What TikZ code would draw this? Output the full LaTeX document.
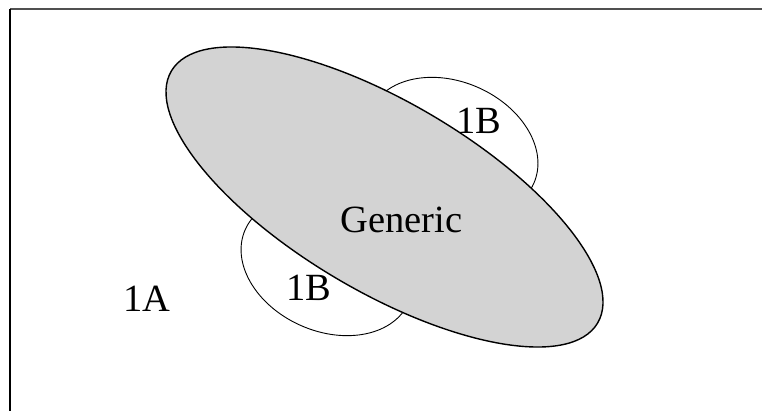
\documentclass[tikz,border=0pt]{standalone}
\usepackage{fontspec}
\setmainfont{Liberation Serif}
\definecolor{fillgray}{RGB}{211,211,211}
\definecolor{topline}{RGB}{80,80,80}
\begin{document}
\begin{tikzpicture}[x=1pt,y=-1pt,
  lbl/.style={anchor=base,inner sep=0pt,font=\fontsize{38.5}{40}\selectfont},
  side/.style={draw=black,line width=0.9pt,fill=white},
  main/.style={draw=black,line width=1.4pt,fill=fillgray}]
\useasboundingbox (0,0) rectangle (762,411);
% frame
\coordinate (tl) at (10,9);
\coordinate (tr) at (762,9);
\coordinate (bl) at (10,411);
\draw[topline,line width=1.3pt] (tl) -- (tr);
\draw[black,line width=1.3pt] (tl) -- (bl);
% side ellipses
\coordinate (cu) at (452,147);
\coordinate (cl) at (327,266);
\draw[side,rotate around={-24:(cu)}] (cu) ellipse [x radius=89.5pt, y radius=65pt];
\draw[side,rotate around={-24:(cl)}] (cl) ellipse [x radius=89.5pt, y radius=65pt];
% main ellipse
\coordinate (cm) at (384.5,197);
\draw[main,rotate around={-30.6:(cm)}] (cm) ellipse [x radius=247.6pt, y radius=94.5pt];
% labels
\node[lbl] (gen) at (401.5,233) {Generic};
\node[lbl] (b1) at (479,134) {1B};
\node[lbl] (b2) at (309,300) {1B};
\node[lbl] (a1) at (147,312) {1A};
\end{tikzpicture}
\end{document}
